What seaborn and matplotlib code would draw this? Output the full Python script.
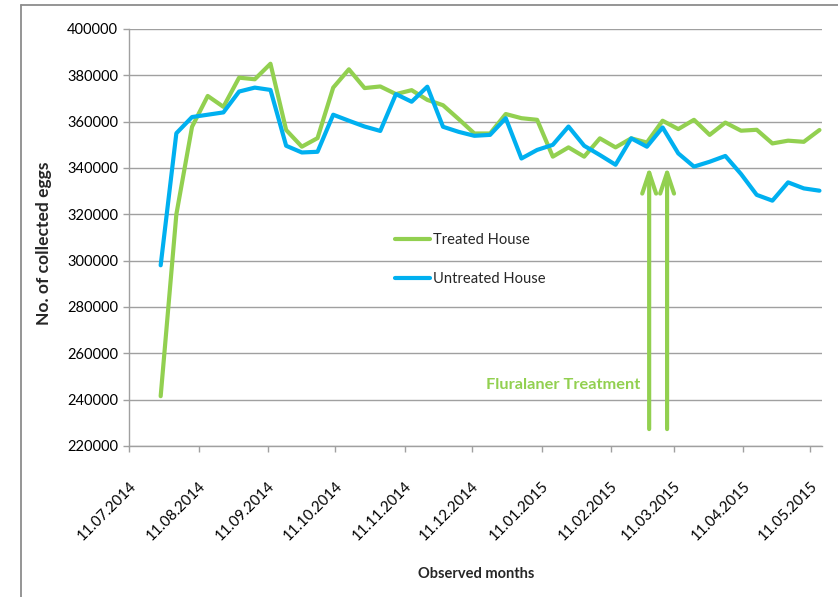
import matplotlib
matplotlib.use("Agg")
import matplotlib.pyplot as plt
import matplotlib.dates as mdates
import matplotlib.transforms as mtransforms
from matplotlib.lines import Line2D
import numpy as np
import pandas as pd
import seaborn as sns

# ---- data ----
start_date = "2014-07-25"
n_weeks = 43
treated = [241500, 320000, 357800, 371100, 366400, 379000, 378300, 385000, 356400, 349200,
           352900, 374700, 382600, 374500, 375200, 371900, 373600, 369400, 367100, 361100,
           354900, 354900, 363300, 361500, 360800, 344900, 348900, 344900, 352800, 348900,
           352800, 351000, 360400, 356800, 360800, 354300, 359600, 356100, 356500, 350600,
           351800, 351300, 356400]
untreated = [298000, 355000, 362000, 363000, 364000, 373000, 374700, 373700, 349600, 346700,
             347000, 363000, 360400, 357900, 356000, 371900, 368600, 375100, 357800, 355600,
             353900, 354300, 361500, 344100, 347800, 350000, 357900, 349600, 345600, 341400,
             352800, 349200, 357500, 346300, 340600, 342700, 345200, 337400, 328400, 325900,
             333800, 331200, 330200]
series_names = ["Treated House", "Untreated House"]
tick_dates = ["2014-07-11", "2014-08-11", "2014-09-11", "2014-10-11", "2014-11-11", "2014-12-11",
              "2015-01-11", "2015-02-11", "2015-03-11", "2015-04-11", "2015-05-11"]
y_ticks = [220000, 240000, 260000, 280000, 300000, 320000, 340000, 360000, 380000, 400000]
treatment_dates = ["2015-02-28", "2015-03-08"]
treatment_label = "Fluralaner Treatment"
arrow_from, arrow_to = 227300, 340800
label_value, label_date = 246500, "2015-02-24"
xlim_dates = ("2014-07-11", "2015-05-16")

GREEN = "#92D050"
BLUE = "#00B0F0"

dates = pd.date_range(start_date, periods=n_weeks, freq="7D")
df = pd.DataFrame({
    "date": np.concatenate([dates, dates]),
    "eggs": treated + untreated,
    "house": [series_names[0]] * n_weeks + [series_names[1]] * n_weeks,
})

sns.set_style("white")
plt.rcParams["font.family"] = ["Lato", "DejaVu Sans"]

W, H = 838, 597
fig = plt.figure(figsize=(W / 100, H / 100), dpi=100)
ax = fig.add_axes([129.3 / W, 1 - 446 / H, (821.7 - 129.3) / W, (446 - 29) / H])

sns.lineplot(data=df, x="date", y="eggs", hue="house",
             palette={series_names[0]: GREEN, series_names[1]: BLUE},
             linewidth=3.0, ax=ax, legend=False)

ax.set_xlim(pd.Timestamp(xlim_dates[0]), pd.Timestamp(xlim_dates[1]))
ax.set_ylim(y_ticks[0], y_ticks[-1])
ax.set_yticks(y_ticks)
ax.set_yticklabels([str(v) for v in y_ticks])
ax.yaxis.grid(True, color="#A0A0A0", linewidth=1.0)
ax.xaxis.grid(False)
ax.set_axisbelow(True)

xt = [pd.Timestamp(d) for d in tick_dates]
ax.set_xticks(xt)
ax.set_xticklabels([t.strftime("%d.%m.%Y") for t in xt])

for s in ["top", "right"]:
    ax.spines[s].set_visible(False)
for s in ["left", "bottom"]:
    ax.spines[s].set_color("#A0A0A0")
    ax.spines[s].set_linewidth(1.0)

ax.tick_params(axis="y", which="both", left=True, length=4, width=1, color="#A0A0A0",
               labelsize=10.5, pad=4, labelcolor="black")
ax.tick_params(axis="x", which="both", bottom=True, length=4.5, width=1, color="#A0A0A0",
               labelsize=10.8, pad=19, labelcolor="black")
offset = mtransforms.ScaledTranslation(-0.5 / 100, 0, fig.dpi_scale_trans)
for lab in ax.get_xticklabels():
    lab.set_rotation(45)
    lab.set_ha("right")
    lab.set_va("top")
    lab.set_rotation_mode("anchor")
    lab.set_transform(lab.get_transform() + offset)

ax.set_xlabel("Observed months", fontsize=10.5, fontweight="bold")
ax.set_ylabel("No. of collected eggs", fontsize=12.6, fontweight="bold")
ax.xaxis.set_label_coords((476 - 129.3) / (821.7 - 129.3), 1 - (574 - 29) / (446 - 29))
ax.xaxis.label.set_va("center")
ax.yaxis.set_label_coords((44 - 129.3) / (821.7 - 129.3), 1 - (243 - 29) / (446 - 29))
ax.yaxis.label.set_va("center")

handles = [Line2D([], [], color=GREEN, lw=3.0), Line2D([], [], color=BLUE, lw=3.0)]
leg = ax.legend(handles, series_names, loc="upper left",
                bbox_to_anchor=((395 - 129.3) / 692.4, 1 - (233 - 29) / 417),
                frameon=False, fontsize=10.6, handlelength=2.35, handletextpad=0.2,
                labelspacing=1.7, borderpad=0, borderaxespad=0)

for d in treatment_dates:
    ax.annotate("", xy=(pd.Timestamp(d), arrow_to), xytext=(pd.Timestamp(d), arrow_from),
                arrowprops=dict(arrowstyle="->,head_length=1.5,head_width=0.5",
                                color=GREEN, lw=3.0, mutation_scale=10,
                                shrinkA=0, shrinkB=0))

ax.text(pd.Timestamp(label_date), label_value, treatment_label, color=GREEN,
        fontsize=11.8, fontweight="bold", ha="right", va="center")

# outer chart border (left and top)
fig.add_artist(Line2D([20.7 / W, 20.7 / W], [0, 1 - 5 / H], color="#8C8C8C", lw=1.3,
                      transform=fig.transFigure))
fig.add_artist(Line2D([20.7 / W, 1], [1 - 5 / H, 1 - 5 / H], color="#8C8C8C", lw=1.3,
                      transform=fig.transFigure))

fig.savefig("out.png", dpi=100)
